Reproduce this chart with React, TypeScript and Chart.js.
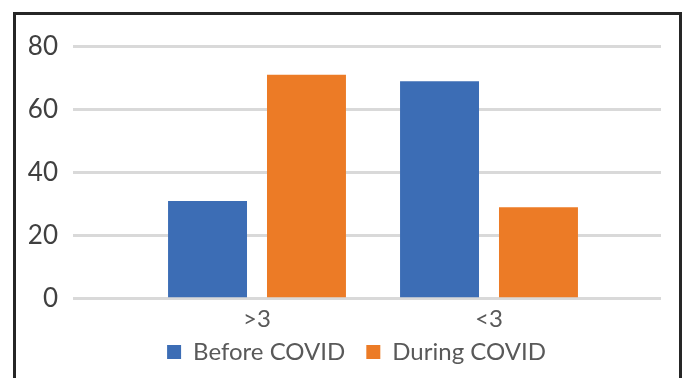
import React, { useEffect, useRef } from 'react';
import { Chart, registerables } from 'chart.js';

Chart.register(...registerables);

const categories = ['>3', '<3'];
const seriesNames = ['Before COVID', 'During COVID'];
const beforeCovid = [31, 69];
const duringCovid = [71, 29];
const yTickValues = [0, 20, 40, 60, 80];

const FONT = "Lato, 'DejaVu Sans Condensed', sans-serif";
const FONT_SIZE = 24;
const GRID = '#d9d9d9';

export default function App() {
  const ref = useRef<HTMLCanvasElement>(null);

  useEffect(() => {
    const setTicks = (s: any) => {
      s.ticks = yTickValues.map((v) => ({ value: v }));
    };
    const chart = new Chart(ref.current as HTMLCanvasElement, {
      type: 'bar',
      data: {
        labels: categories,
        datasets: [
          {
            label: seriesNames[0],
            data: beforeCovid,
            backgroundColor: '#3c6db5',
            categoryPercentage: 0.853,
            barPercentage: 0.798,
          },
          {
            label: seriesNames[1],
            data: duringCovid,
            backgroundColor: '#ec7b26',
            categoryPercentage: 0.853,
            barPercentage: 0.798,
          },
        ],
      },
      options: {
        animation: false,
        responsive: false,
        maintainAspectRatio: false,
        layout: { padding: { left: 10, right: -17, top: 46.5, bottom: 4 } },
        plugins: {
          tooltip: { enabled: false },
          legend: {
            position: 'bottom',
            labels: {
              boxWidth: 14,
              boxHeight: 14,
              padding: 21,
              color: '#595959',
              font: { family: FONT, size: FONT_SIZE },
            },
          },
        },
        scales: {
          x: {
            grid: { display: false, drawTicks: false },
            border: { display: false },
            ticks: {
              color: '#595959',
              font: { family: FONT, size: FONT_SIZE },
              mirror: true,
              padding: -34.7,
            },
            afterFit: (s: any) => {
              s.height = 20.3;
            },
          },
          y: {
            position: 'left',
            min: 0,
            max: 80,
            afterBuildTicks: setTicks,
            grid: { color: GRID, lineWidth: 3, tickLength: 68 },
            border: { display: false },
            ticks: { color: '#404040', font: { family: FONT, size: 26 }, padding: 15 },
            afterFit: (s: any) => {
              s.width = 131;
            },
          },
          y2: {
            position: 'right',
            min: 0,
            max: 80,
            afterBuildTicks: setTicks,
            grid: { color: GRID, lineWidth: 3, tickLength: 56, drawOnChartArea: false },
            border: { display: false },
            ticks: { display: false },
            afterFit: (s: any) => {
              s.width = 98;
            },
          },
        },
      },
    } as any);
    return () => chart.destroy();
  }, []);

  return (
    <div
      style={{
        position: 'fixed',
        left: 0,
        top: 0,
        width: 686,
        height: 378,
        overflow: 'hidden',
        background: '#ffffff',
      }}
    >
      <canvas
        ref={ref}
        width={686}
        height={378}
        style={{ position: 'absolute', left: 0, top: 0, display: 'block' }}
      />
      <div
        style={{
          position: 'absolute',
          left: 13,
          top: 12,
          width: 669,
          height: 420,
          boxSizing: 'border-box',
          border: '3px solid #262626',
          pointerEvents: 'none',
        }}
      />
    </div>
  );
}
